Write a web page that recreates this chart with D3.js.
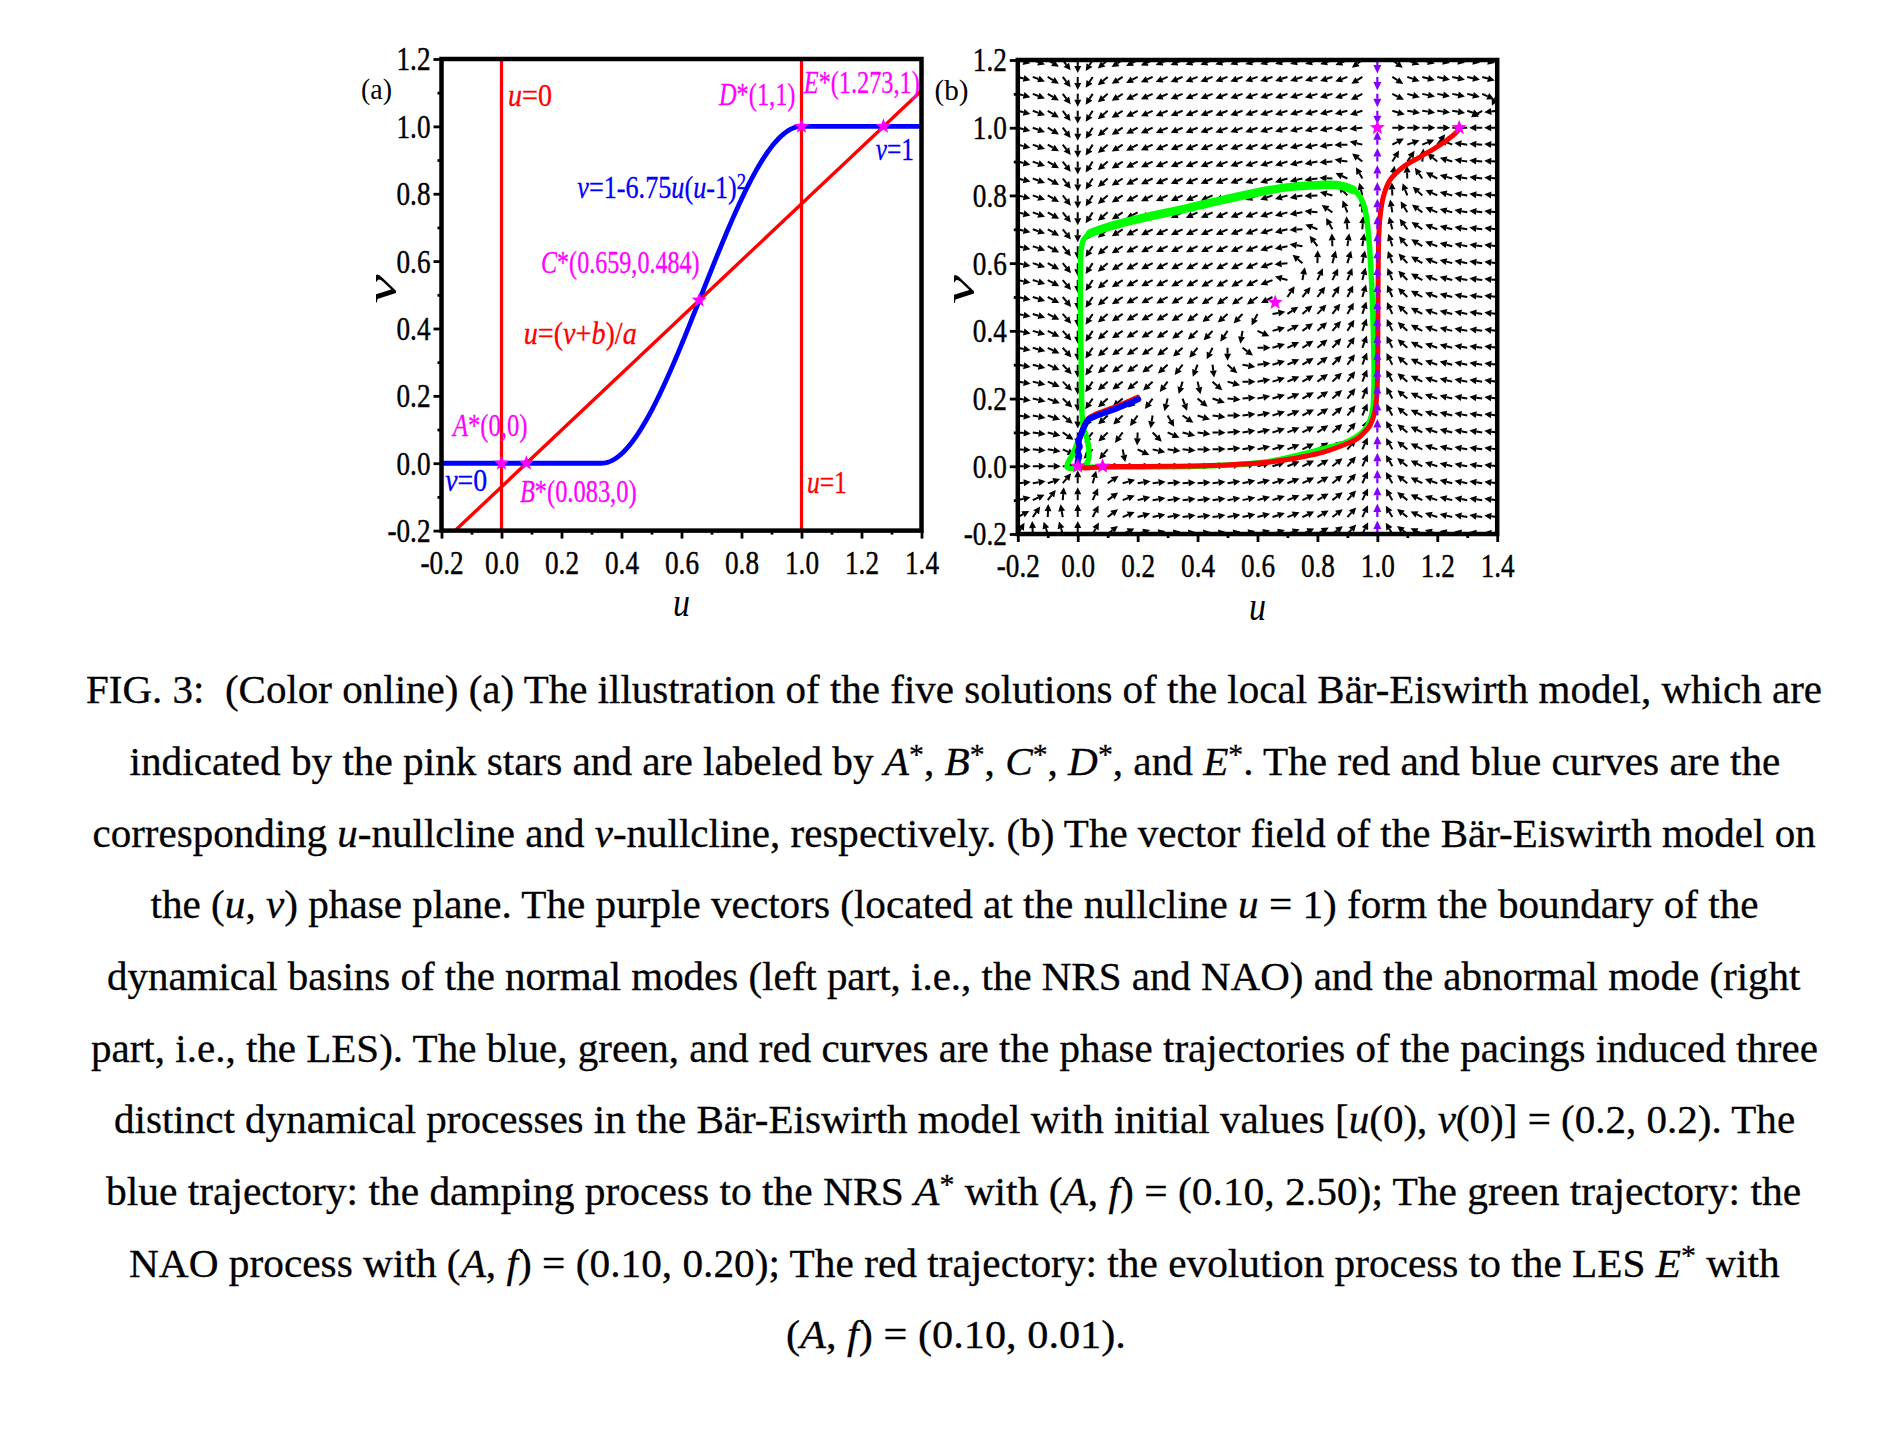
<!DOCTYPE html>
<html><head><meta charset="utf-8">
<script src="https://cdn.jsdelivr.net/npm/d3@7"></script>
<style>
html,body{margin:0;padding:0;background:#fff;}
svg text{font-family:"Liberation Serif","Times New Roman",serif;white-space:pre;}
</style></head><body>
<svg id="fig" width="1902" height="1431"></svg>
<script>
// ---------------- data ----------------
const uTicks = [-0.2, 0.0, 0.2, 0.4, 0.6, 0.8, 1.0, 1.2, 1.4];
const vTicks = [-0.2, 0.0, 0.2, 0.4, 0.6, 0.8, 1.0, 1.2];
const uMinor = [-0.1, 0.1, 0.3, 0.5, 0.7, 0.9, 1.1, 1.3];
const vMinor = [-0.1, 0.1, 0.3, 0.5, 0.7, 0.9, 1.1];
// Bär-Eiswirth model parameters (from B*=(0.083,0), E*=(1.273,1))
const modelA = 0.84, modelB = 0.07, modelEps = 0.08;
const fpNames = ["A", "B", "C", "D", "E"];
const fpU = [0, 0.083, 0.659, 1, 1.273];
const fpV = [0, 0, 0.484, 1, 1];
// quiver grid indices (step 0.05)
const gridUIdx = d3.range(-4, 29);
const gridVIdx = d3.range(-4, 25);
// trajectories
const blueTraj = [[0.202,0.198],[0.13,0.171],[0.063,0.149],[0.035,0.137],[0.019,0.112],[0.008,0.087],[0.002,0.072],[0.007,0.058],[0.0,0.045],[0.005,0.03],[0.0,0.015],[0.0,0.0]];
const redTraj = [[0.2,0.204],[0.13,0.177],[0.063,0.155],[0.035,0.141],[0.019,0.115],[0.008,0.089],[0.003,0.058],[0.002,0.028],[0.004,0.0],[0.1,-0.001],[0.3,0.0],[0.5,0.004],[0.623,0.011],[0.7,0.02],[0.751,0.028],[0.82,0.042],[0.879,0.06],[0.931,0.08],[0.956,0.1],[0.975,0.12],[0.99,0.156],[0.998,0.205],[1.001,0.3],[1.002,0.45],[1.003,0.6],[1.005,0.68],[1.009,0.737],[1.02,0.796],[1.042,0.845],[1.087,0.885],[1.143,0.914],[1.209,0.949],[1.265,0.988],[1.273,1.0]];
const greenTraj = [[0.2,0.2],[0.13,0.172],[0.063,0.15],[0.035,0.137],[0.019,0.112],[0.006,0.085],[-0.012,0.045],[-0.035,-0.003],[0.02,-0.003],[0.2,-0.002],[0.4,0.0],[0.55,0.006],[0.65,0.016],[0.742,0.034],[0.82,0.052],[0.887,0.068],[0.93,0.087],[0.958,0.108],[0.976,0.137],[0.985,0.17],[0.989,0.25],[0.988,0.343],[0.985,0.45],[0.981,0.54],[0.976,0.62],[0.97,0.688],[0.963,0.74],[0.953,0.776],[0.935,0.805],[0.92,0.816],[0.89,0.826],[0.864,0.831],[0.809,0.831],[0.72,0.826],[0.642,0.816],[0.5,0.79],[0.364,0.762],[0.2,0.73],[0.097,0.706],[0.041,0.688],[0.02,0.67],[0.013,0.648],[0.01,0.62],[0.009,0.5],[0.01,0.373],[0.012,0.285],[0.014,0.16],[0.02,0.11],[0.03,0.085],[0.037,0.05],[0.036,0.02],[0.025,0.003],[0.01,0.0]];
// panel (a) annotation texts: [text, style] (i = italic, s = superscript)
const annotTexts = [
  {segs: [["u","i"],["=0",""]], color: "#ff0000"},
  {segs: [["D","i"],["*(1,1)",""]], color: "#ff00ff"},
  {segs: [["E","i"],["*(1.273,1)",""]], color: "#ff00ff"},
  {segs: [["v","i"],["=1",""]], color: "#0000ff"},
  {segs: [["v","i"],["=1-6.75",""],["u","i"],["(",""],["u","i"],["-1)",""],["2","s"]], color: "#0000ff"},
  {segs: [["C","i"],["*(0.659,0.484)",""]], color: "#ff00ff"},
  {segs: [["u","i"],["=(",""],["v","i"],["+",""],["b","i"],[")/",""],["a","i"]], color: "#ff0000"},
  {segs: [["A","i"],["*(0,0)",""]], color: "#ff00ff"},
  {segs: [["v","i"],["=0",""]], color: "#0000ff"},
  {segs: [["B","i"],["*(0.083,0)",""]], color: "#ff00ff"},
  {segs: [["u","i"],["=1",""]], color: "#ff0000"}
];
const captionLines = [
 [["FIG. 3:  (Color online) (a) The illustration of the five solutions of the local Bär-Eiswirth model, which are",""]],
 [["indicated by the pink stars and are labeled by ",""],["A","i"],["*","s"],[", ",""],["B","i"],["*","s"],[", ",""],["C","i"],["*","s"],[", ",""],["D","i"],["*","s"],[", and ",""],["E","i"],["*","s"],[". The red and blue curves are the",""]],
 [["corresponding ",""],["u","i"],["-nullcline and ",""],["v","i"],["-nullcline, respectively. (b) The vector field of the Bär-Eiswirth model on",""]],
 [["the (",""],["u","i"],[", ",""],["v","i"],[") phase plane. The purple vectors (located at the nullcline ",""],["u","i"],[" = 1) form the boundary of the",""]],
 [["dynamical basins of the normal modes (left part, i.e., the NRS and NAO) and the abnormal mode (right",""]],
 [["part, i.e., the LES). The blue, green, and red curves are the phase trajectories of the pacings induced three",""]],
 [["distinct dynamical processes in the Bär-Eiswirth model with initial values [",""],["u","i"],["(0), ",""],["v","i"],["(0)] = (0.2, 0.2). The",""]],
 [["blue trajectory: the damping process to the NRS ",""],["A","i"],["*","s"],[" with (",""],["A","i"],[", ",""],["f","i"],[") = (0.10, 2.50); The green trajectory: the",""]],
 [["NAO process with (",""],["A","i"],[", ",""],["f","i"],[") = (0.10, 0.20); The red trajectory: the evolution process to the LES ",""],["E","i"],["*","s"],[" with",""]],
 [["(",""],["A","i"],[", ",""],["f","i"],[") = (0.10, 0.01).",""]]
];

// ---------------- layout ----------------
const svg = d3.select("#fig");
const FONT = '"Liberation Serif","Times New Roman",serif';
const xA = d3.scaleLinear().domain([-0.2, 1.4]).range([441.5, 921.5]);
const yA = d3.scaleLinear().domain([-0.2, 1.2]).range([530.6, 59]);
const xB = d3.scaleLinear().domain([-0.2, 1.4]).range([1017.8, 1497.2]);
const yB = d3.scaleLinear().domain([-0.2, 1.2]).range([534, 60]);

const fmt = d => (d < -1e-9 ? "-" : "") + Math.abs(d).toFixed(1);
const fNull = u => u < 1/3 ? 0 : (u <= 1 ? 1 - 6.75 * u * (u - 1) ** 2 : 1);
const duDt = (u, v) => -u * (u - 1) * (u - (v + modelB) / modelA) / modelEps;
const dvDt = (u, v) => fNull(u) - v;

function starPath(cx, cy, R) {
  const r = R * 0.42; let p = "";
  for (let i = 0; i < 10; i++) {
    const ang = -Math.PI / 2 + i * Math.PI / 5;
    const rr = i % 2 === 0 ? R : r;
    p += (i === 0 ? "M" : "L") + (cx + rr * Math.cos(ang)).toFixed(2) + "," + (cy + rr * Math.sin(ang)).toFixed(2);
  }
  return p + "Z";
}

function addSegs(t, segs, size) {
  let prevSup = false;
  segs.forEach(([txt, st]) => {
    const ts = t.append("tspan").text(txt);
    if (st === "i") ts.attr("font-style", "italic");
    if (st === "s") { ts.attr("font-size", size * 0.72).attr("dy", -size * 0.28); prevSup = true; }
    else if (prevSup) { ts.attr("dy", size * 0.28); prevSup = false; }
  });
}
// horizontally scale a text element so that it spans [x, x + w] with baseline y
function fitText(t, x, y, w) {
  t.attr("x", 0).attr("y", 0);
  const L = t.node().getComputedTextLength();
  const s = L > 0 ? w / L : 1;
  t.attr("transform", `translate(${x},${y}) scale(${s},1)`);
}

function drawAxes(g, x, y, panelId) {
  const y0 = y.range()[0], x0 = x.range()[0];
  const styleAxis = sel => {
    sel.attr("font-family", FONT).attr("font-size", 34);
    sel.select(".domain").remove();
    sel.selectAll(".tick line").attr("stroke", "#000").attr("stroke-width", 2.8);
    sel.selectAll(".tick text").attr("fill", "#000").attr("stroke", "#000").attr("stroke-width", 0.45);
  };
  g.append("g").attr("transform", `translate(0,${y0})`)
    .call(d3.axisBottom(x).tickValues(uMinor).tickSize(4).tickFormat("")).call(styleAxis);
  g.append("g").attr("transform", `translate(${x0},0)`)
    .call(d3.axisLeft(y).tickValues(vMinor).tickSize(4).tickFormat("")).call(styleAxis);
  g.append("g").attr("transform", `translate(0,${y0})`)
    .call(d3.axisBottom(x).tickValues(uTicks).tickSize(8).tickPadding(11).tickFormat(fmt)).call(styleAxis);
  g.append("g").attr("transform", `translate(${x0},0)`)
    .call(d3.axisLeft(y).tickValues(vTicks).tickSize(8).tickPadding(3).tickFormat(fmt)).call(styleAxis);
  g.selectAll(".tick text").each(function () {
    const L = this.getComputedTextLength();
    if (L > 0) d3.select(this).attr("textLength", L * 0.8).attr("lengthAdjust", "spacingAndGlyphs");
  });
  svg.append("clipPath").attr("id", "clip" + panelId).append("rect")
    .attr("x", x.range()[0]).attr("y", y.range()[1])
    .attr("width", x.range()[1] - x.range()[0]).attr("height", y.range()[0] - y.range()[1]);
}

function drawFrame(g, x, y) {
  g.append("rect").attr("x", x.range()[0]).attr("y", y.range()[1])
    .attr("width", x.range()[1] - x.range()[0]).attr("height", y.range()[0] - y.range()[1])
    .attr("fill", "none").attr("stroke", "#000").attr("stroke-width", 4.5);
}

function axisTitles(g, cxU, baseU, cxV, cyV, id, idX, idBase, idW) {
  g.append("text").attr("x", cxU).attr("y", baseU).attr("text-anchor", "middle")
    .attr("font-family", FONT).attr("font-size", 40).attr("font-style", "italic")
    .attr("textLength", 17).attr("lengthAdjust", "spacingAndGlyphs").text("u");
  g.append("text").attr("transform", `translate(${cxV},${cyV}) rotate(-90)`)
    .attr("text-anchor", "middle").attr("dominant-baseline", "central")
    .attr("font-family", FONT).attr("font-size", 44).attr("font-style", "italic")
    .attr("textLength", 29).attr("lengthAdjust", "spacingAndGlyphs").text("v");
  g.append("text").attr("x", idX).attr("y", idBase).attr("font-family", FONT).attr("font-size", 29)
    .attr("textLength", idW).attr("lengthAdjust", "spacingAndGlyphs").text(id);
}

// ---------------- panel (a) ----------------
const gA = svg.append("g");
drawAxes(gA, xA, yA, "A");
const plotA = gA.append("g").attr("clip-path", "url(#clipA)");
const nullU = d3.range(-0.2, 1.4001, 0.004);
plotA.append("path").datum(nullU)
  .attr("d", d3.line().x(u => xA(u)).y(u => yA(fNull(u))))
  .attr("fill", "none").attr("stroke", "#0000ff").attr("stroke-width", 4.8).attr("stroke-linejoin", "round");
[0, 1].forEach(u0 => {
  plotA.append("line").attr("x1", xA(u0)).attr("x2", xA(u0)).attr("y1", yA(-0.2)).attr("y2", yA(1.2))
    .attr("stroke", "#ff0000").attr("stroke-width", 3.2);
});
plotA.append("line").attr("x1", xA(-0.2)).attr("y1", yA(modelA * -0.2 - modelB))
  .attr("x2", xA(1.4)).attr("y2", yA(modelA * 1.4 - modelB))
  .attr("stroke", "#ff0000").attr("stroke-width", 3.4);
fpU.forEach((u, i) => {
  gA.append("path").attr("d", starPath(xA(u), yA(fpV[i]), 8)).attr("fill", "#ff00ff");
});
// annotation placement: [left x, baseline y, width] in pixels
const annotPos = [[508,106,44],[719,104.6,76.5],[803.8,93.1,116],[875.8,160.1,38.2],[577.3,198.4,169],[541,273,158.7],[523.7,343.8,113],[452.9,436.4,74.6],[445.2,491.2,42],[519.9,501.5,116.7],[806.9,493,40]];
annotTexts.forEach((a, i) => {
  const [px, py, w] = annotPos[i];
  const t = gA.append("text").attr("font-family", FONT).attr("font-size", 32)
    .attr("fill", a.color).attr("stroke", a.color).attr("stroke-width", 0.3);
  addSegs(t, a.segs, 32);
  fitText(t, px, py, w);
});
drawFrame(gA, xA, yA);
axisTitles(gA, 681.5, 616, 381, 289, "(a)", 361, 99, 31);

// ---------------- panel (b) ----------------
const gB = svg.append("g");
drawAxes(gB, xB, yB, "B");
const plotB = gB.append("g").attr("clip-path", "url(#clipB)");
const kx = xB(1) - xB(0), ky = yB(1) - yB(0);
function buildArrows(filterFn, L, H, W) {
  const out = [];
  d3.cross(gridUIdx, gridVIdx).forEach(([i, j]) => {
    const u = i / 20, v = j / 20;
    if (!filterFn(i)) return;
    const px = duDt(u, v) * kx, py = dvDt(u, v) * ky;
    const len = Math.hypot(px, py);
    if (len < 1e-9) return;
    const ux = px / len, uy = py / len;
    const tx = xB(u), ty = yB(v);
    const tipX = tx + L * ux, tipY = ty + L * uy;
    const bx = tipX - H * ux, by = tipY - H * uy;
    const nx = -uy * W / 2, ny = ux * W / 2;
    out.push({tx, ty, bx, by, tipX, tipY, nx, ny});
  });
  return out;
}
function drawArrows(layer, arr, color, sw) {
  layer.selectAll(null).data(arr).join("line")
    .attr("x1", d => d.tx).attr("y1", d => d.ty).attr("x2", d => d.bx).attr("y2", d => d.by)
    .attr("stroke", color).attr("stroke-width", sw);
  layer.selectAll(null).data(arr).join("path")
    .attr("d", d => `M${d.tipX},${d.tipY}L${d.bx + d.nx},${d.by + d.ny}L${d.bx - d.nx},${d.by - d.ny}Z`)
    .attr("fill", color);
}
const blackArrows = buildArrows(i => i !== 20, 13, 7, 7);
const purpleArrows = buildArrows(i => i === 20, 13.5, 8.5, 8);
drawArrows(plotB.append("g"), blackArrows, "#000", 2);

const trajLine = d3.line().x(d => xB(d[0])).y(d => yB(d[1])).curve(d3.curveCatmullRom.alpha(0.5));
plotB.append("path").datum(greenTraj).attr("d", trajLine).attr("fill", "none")
  .attr("stroke", "#00ff00").attr("stroke-width", 5.5).attr("stroke-linejoin", "round").attr("stroke-linecap", "round");
plotB.append("path").datum(greenTraj.filter(d => d[1] > 0.66 && d[0] > 0.03 && d[0] < 0.93)).attr("d", trajLine).attr("fill", "none")
  .attr("stroke", "#00ff00").attr("stroke-width", 8.5).attr("stroke-linejoin", "round").attr("stroke-linecap", "round");
plotB.append("path").datum(redTraj).attr("d", trajLine).attr("fill", "none")
  .attr("stroke", "#ff0000").attr("stroke-width", 5).attr("stroke-linejoin", "round").attr("stroke-linecap", "round");
plotB.append("path").datum(blueTraj).attr("d", trajLine).attr("fill", "none")
  .attr("stroke", "#0000ff").attr("stroke-width", 6).attr("stroke-linejoin", "round").attr("stroke-linecap", "round");
drawArrows(plotB.append("g"), purpleArrows, "#8000ff", 2.2);
fpU.forEach((u, i) => {
  gB.append("path").attr("d", starPath(xB(u), yB(fpV[i]), 8)).attr("fill", "#ff00ff");
});
drawFrame(gB, xB, yB);
axisTitles(gB, 1257.5, 620, 959, 289.5, "(b)", 934.5, 100, 34);

// ---------------- caption ----------------
const capSpan = [[86,1822],[129.5,1780.5],[92.5,1816],[150.5,1759],[107,1801],[91,1818.5],[114,1795.5],[106,1801.5],[129,1780],[786,1126]];
captionLines.forEach((segs, k) => {
  const [x0, x1] = capSpan[k];
  const t = svg.append("text").attr("font-family", FONT).attr("font-size", 41).attr("fill", "#000")
    .attr("stroke", "#000").attr("stroke-width", 0.3);
  addSegs(t, segs, 41);
  fitText(t, x0, 703.3 + 71.67 * k, x1 - x0);
});
</script>
</body></html>
